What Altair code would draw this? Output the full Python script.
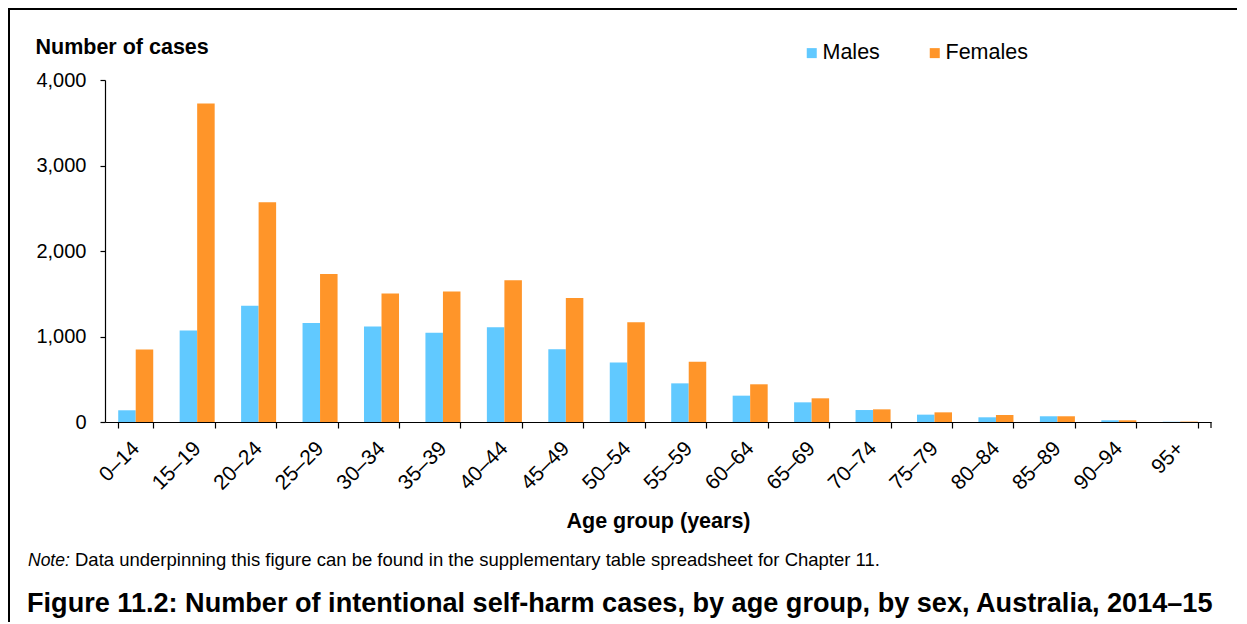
import altair as alt
import pandas as pd

ages = ["0–14", "15–19", "20–24", "25–29", "30–34", "35–39", "40–44", "45–49",
        "50–54", "55–59", "60–64", "65–69", "70–74", "75–79", "80–84", "85–89",
        "90–94", "95+"]
males = [137, 1069, 1361, 1158, 1116, 1044, 1108, 850, 695, 452, 308, 230,
         140, 86, 55, 67, 20, 3]
females = [847, 3724, 2570, 1731, 1502, 1525, 1657, 1450, 1166, 706, 441, 277,
           148, 113, 82, 67, 20, 5]
series = ["Males", "Females"]
colors = ["#61C9FF", "#FF9529"]
y_ticks = [0, 1000, 2000, 3000, 4000]

y_title = "Number of cases"
x_title = "Age group (years)"
note_label = "Note:"
note_text = "Data underpinning this figure can be found in the supplementary table spreadsheet for Chapter 11."
fig_title = "Figure 11.2: Number of intentional self-harm cases, by age group, by sex, Australia, 2014–15"

rows = []
for a, m, f in zip(ages, males, females):
    rows.append({"age": a, "sex": "Males", "cases": m})
    rows.append({"age": a, "sex": "Females", "cases": f})
df = pd.DataFrame(rows)

FONT = "Liberation Sans"
W, H = 1106, 342
PAD_L, PAD_T, PAD_R, PAD_B = 97, 72, 26, 200

bars = alt.Chart(df).mark_bar().encode(
    x=alt.X("age:N", sort=ages,
            scale=alt.Scale(paddingInner=0.43, paddingOuter=0.215),
            axis=alt.Axis(title=x_title, labelAngle=-45, labelAlign="right",
                          labelBaseline="middle", labelFontSize=21,
                          labelPadding=17, tickBand="extent", tickSize=6,
                          titleFontSize=21.5, titleFontWeight="bold",
                          titleBaseline="alphabetic", titleY=105)),
    xOffset=alt.XOffset("sex:N", sort=series),
    y=alt.Y("cases:Q", scale=alt.Scale(domain=[0, 4000], nice=False),
            axis=alt.Axis(title=y_title, values=y_ticks, format=",.0f",
                          grid=False, tickSize=5, labelPadding=14,
                          labelFontSize=20, titleFontSize=21.5,
                          titleFontWeight="bold", titleAngle=0,
                          titleAlign="left", titleBaseline="alphabetic",
                          titleX=-70, titleY=-27)),
    color=alt.Color("sex:N", sort=series,
                    scale=alt.Scale(domain=series, range=colors),
                    legend=alt.Legend(orient="none", legendX=696, legendY=-38,
                                      direction="horizontal", title=None,
                                      symbolType="square", symbolSize=100,
                                      symbolStrokeWidth=0, labelFontSize=21.5,
                                      labelOffset=0, columnPadding=44,
                                      padding=0)),
)

end_tick = alt.Chart(pd.DataFrame({"k": [0]})).mark_rule(color="black", strokeWidth=1.2).encode(
    x=alt.value(W), y=alt.value(H), y2=alt.value(H + 6)
)

top_line = alt.Chart(pd.DataFrame({"k": [0]})).mark_rule(color="black", strokeWidth=2).encode(
    x=alt.value(-PAD_L), x2=alt.value(W + PAD_R), y=alt.value(-PAD_T + 1)
)
left_line = alt.Chart(pd.DataFrame({"k": [0]})).mark_rule(color="black", strokeWidth=2).encode(
    x=alt.value(-PAD_L + 1), y=alt.value(-PAD_T), y2=alt.value(H + PAD_B)
)

note1 = alt.Chart(pd.DataFrame({"t": [note_label]})).mark_text(
    align="left", baseline="alphabetic", fontSize=17.5, fontStyle="italic", font=FONT
).encode(x=alt.value(-77), y=alt.value(486), text="t:N")

note2 = alt.Chart(pd.DataFrame({"t": [note_text]})).mark_text(
    align="left", baseline="alphabetic", fontSize=18.5, font=FONT
).encode(x=alt.value(-30), y=alt.value(486), text="t:N")

title = alt.Chart(pd.DataFrame({"t": [fig_title]})).mark_text(
    align="left", baseline="alphabetic", fontSize=27.1, fontWeight="bold", font=FONT
).encode(x=alt.value(-78), y=alt.value(532), text="t:N")

chart = alt.layer(top_line, left_line, bars, end_tick, note1, note2, title).properties(
    width=W, height=H,
    autosize=alt.AutoSizeParams(type="none"),
    padding={"left": PAD_L, "top": PAD_T, "right": PAD_R, "bottom": PAD_B},
).configure(font=FONT).configure_view(stroke=None).configure_axis(
    domainColor="black", tickColor="black", labelColor="black",
    titleColor="black", labelFont=FONT, titleFont=FONT, domainWidth=1.2,
    tickWidth=1.2
).configure_legend(labelFont=FONT, labelColor="black")

chart.save("out.html", embed_options={"renderer": "svg", "actions": False})
